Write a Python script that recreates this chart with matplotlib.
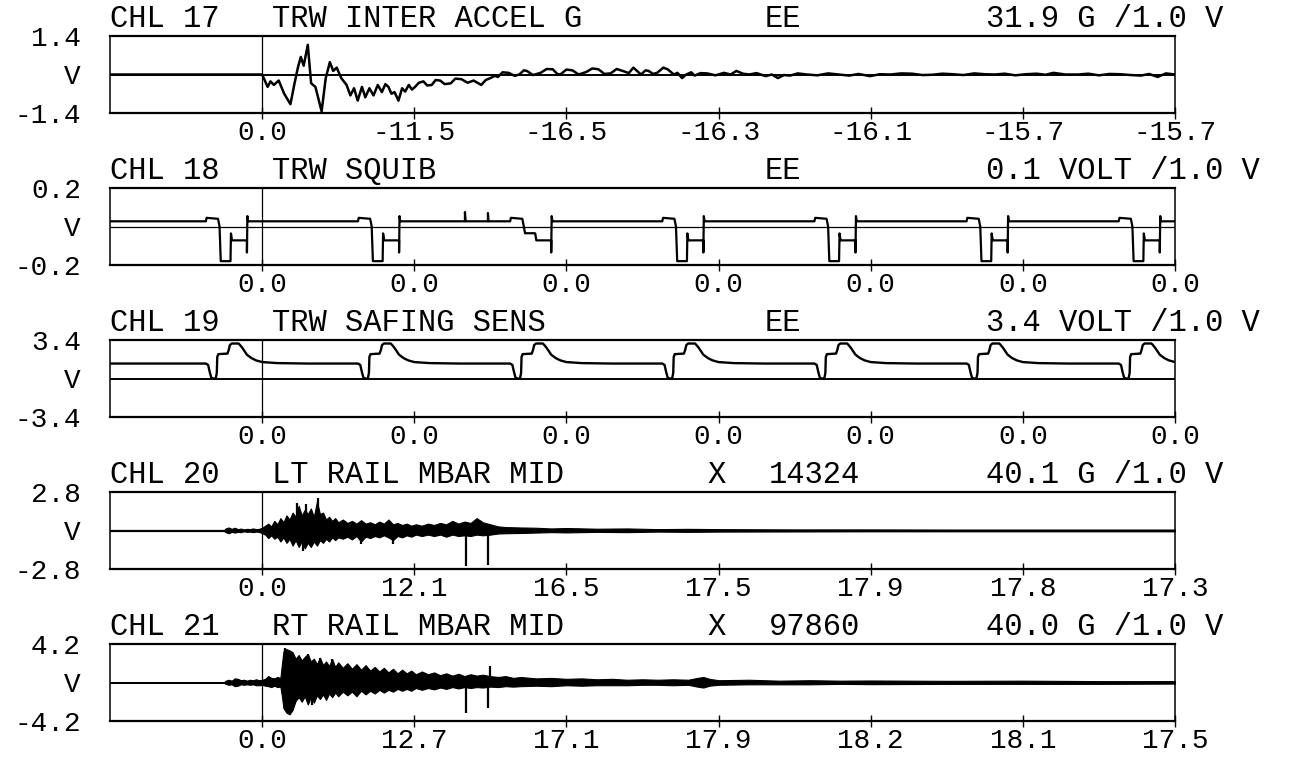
import numpy as np
import matplotlib
matplotlib.use("Agg")
import matplotlib.pyplot as plt

plt.rcParams['font.family'] = ['Liberation Mono', 'DejaVu Sans Mono']

W, H = 1291, 761

# header fields per channel
chl_names = ["CHL 17", "CHL 18", "CHL 19", "CHL 20", "CHL 21"]
chl_titles = ["TRW INTER ACCEL G", "TRW SQUIB", "TRW SAFING SENS",
              "LT RAIL MBAR MID", "RT RAIL MBAR MID"]
chl_x = ["", "", "", "X", "X"]
chl_ids = ["EE", "EE", "EE", "14324", "97860"]
chl_scale = ["31.9 G /1.0 V", "0.1 VOLT /1.0 V", "3.4 VOLT /1.0 V",
             "40.1 G /1.0 V", "40.0 G /1.0 V"]
full_scale = [1.4, 0.2, 3.4, 2.8, 4.2]

tick_labels = [
    ["0.0", "-11.5", "-16.5", "-16.3", "-16.1", "-15.7", "-15.7"],
    ["0.0", "0.0", "0.0", "0.0", "0.0", "0.0", "0.0"],
    ["0.0", "0.0", "0.0", "0.0", "0.0", "0.0", "0.0"],
    ["0.0", "12.1", "16.5", "17.5", "17.9", "17.8", "17.3"],
    ["0.0", "12.7", "17.1", "17.9", "18.2", "18.1", "17.5"],
]

# CHL 17 trace (x in tick divisions, y in volts)
ch17_t = [-1.0, 0.0, 0.036, 0.055, 0.077, 0.109, 0.145, 0.186, 0.213, 0.235,
          0.254, 0.273, 0.30, 0.322, 0.35, 0.391, 0.418, 0.445, 0.467, 0.49,
          0.52, 0.555, 0.58, 0.604, 0.628, 0.656, 0.678, 0.705, 0.732, 0.76,
          0.787, 0.81, 0.83, 0.85, 0.87, 0.896, 0.92, 0.94, 0.964, 0.985,
          1.005, 1.03, 1.06, 1.085, 1.115, 1.14, 1.17, 1.2, 1.24, 1.27,
          1.31, 1.35, 1.39, 1.44, 1.47, 1.50, 1.53, 1.55, 1.58, 1.62,
          1.66, 1.69, 1.72, 1.74, 1.78, 1.83, 1.87, 1.91, 1.94, 1.96,
          2.0, 2.04, 2.08, 2.13, 2.17, 2.21, 2.25, 2.29, 2.33, 2.37,
          2.41, 2.44, 2.47, 2.49, 2.52, 2.54, 2.57, 2.596, 2.637, 2.665,
          2.706, 2.73, 2.76, 2.788, 2.82, 2.843, 2.88, 2.925, 2.98, 3.035,
          3.08, 3.117, 3.16, 3.2, 3.25, 3.31, 3.35, 3.39, 3.43, 3.47,
          3.52, 3.58, 3.65, 3.72, 3.79, 3.858, 3.92, 3.995, 4.06, 4.13,
          4.2, 4.27, 4.34, 4.405, 4.47, 4.54, 4.61, 4.68, 4.75, 4.817,
          4.88, 4.95, 5.02, 5.09, 5.15, 5.2, 5.28, 5.365, 5.43, 5.5,
          5.57, 5.64, 5.71, 5.776, 5.83, 5.886, 5.94, 6.0]
ch17_v = [0.0, 0.0, -0.45, -0.25, -0.38, -0.22, -0.70, -1.08, -0.32, 0.25,
          0.64, 0.32, 1.08, -0.32, -0.45, -1.34, -0.13, 0.45, 0.13, 0.25,
          -0.13, -0.38, -0.76, -0.5, -0.95, -0.45, -0.83, -0.5, -0.76, -0.38,
          -0.64, -0.35, -0.45, -0.7, -0.64, -0.95, -0.5, -0.62, -0.38, -0.55,
          -0.45, -0.3, -0.25, -0.4, -0.38, -0.2, -0.22, -0.35, -0.32, -0.15,
          -0.17, -0.3, -0.22, -0.38, -0.2, -0.13, -0.05, -0.09, 0.08, 0.06,
          -0.05, 0.0, 0.15, 0.13, -0.02, 0.06, 0.2, 0.19, 0.02, 0.0,
          0.18, 0.15, 0.0, 0.09, 0.22, 0.19, 0.02, 0.04, 0.2, 0.13,
          0.05, 0.25, 0.1, 0.0, 0.15, 0.13, 0.02, 0.06, 0.25, 0.19,
          0.0, 0.06, -0.13, 0.0, 0.08, -0.04, 0.05, 0.04, -0.03, 0.06,
          0.0, 0.13, 0.03, 0.0, 0.05, -0.06, 0.0, -0.13, -0.02, -0.04,
          0.04, 0.0, -0.03, 0.04, 0.0, -0.04, 0.02, -0.06, 0.01, 0.0,
          0.04, 0.03, -0.02, -0.01, 0.03, 0.01, -0.02, 0.04, 0.01, 0.0,
          0.03, -0.03, 0.01, 0.03, -0.01, 0.06, 0.0, 0.0, 0.03, -0.03,
          0.02, 0.01, -0.02, -0.04, 0.02, -0.09, 0.04, 0.0]

# CHL 18 squib pulse shape (offset from each division, volts); None = pulse depth
squib_base = 0.027
squib_dx = [-0.37, -0.365, -0.29, -0.28, -0.272, -0.215, -0.208, -0.205,
            -0.198, -0.10, -0.10, -0.097, -0.092]
squib_v = [0.027, 0.045, 0.040, 0.0, None, None, None, -0.036,
           -0.072, -0.072, -0.135, 0.054, 0.027]
squib_pos = [0, 1, 2, 3, 4, 5, 6]
squib_depth = [-0.18, -0.18, -0.035, -0.18, -0.18, -0.18, -0.18]
squib_blip_x = [1.333, 1.484]
squib_blip_v = [0.075, 0.07]

# CHL 19 safing sensor pulse shape (offset from each division, volts)
safe_base = 1.32
safe_dx = [-0.37, -0.355, -0.345, -0.335, -0.325, -0.305, -0.298, -0.295,
           -0.288, -0.228, -0.22, -0.212, -0.2, -0.155, -0.145, -0.13,
           -0.12, -0.1, -0.07, -0.04, 0.0, 0.1, 0.3, 0.6]
safe_v = [1.32, 1.2, 0.6, 0.1, 0.0, 0.0, 0.5, 1.9,
          2.15, 2.2, 2.5, 2.95, 3.09, 3.09, 2.95, 2.7,
          2.5, 2.1, 1.8, 1.6, 1.45, 1.36, 1.32, 1.32]
safe_pos = [0, 1, 2, 3, 4, 5, 6]

# CHL 20 envelope (upper / lower, volts)
ch20_t = [-1.0, -0.25, -0.24, -0.22, -0.20, -0.18, -0.16, -0.14, -0.12, -0.10,
          -0.08, -0.06, -0.04, -0.02, 0.00, 0.02, 0.04, 0.06, 0.08, 0.10,
          0.12, 0.14, 0.16, 0.18, 0.20, 0.22, 0.24, 0.26, 0.28, 0.30,
          0.32, 0.34, 0.36, 0.38, 0.40, 0.42, 0.44, 0.46, 0.48, 0.50,
          0.53, 0.56, 0.59, 0.62, 0.65, 0.68, 0.71, 0.74, 0.77, 0.80,
          0.83, 0.86, 0.89, 0.92, 0.95, 0.98, 1.01, 1.05, 1.09, 1.13,
          1.17, 1.21, 1.25, 1.29, 1.33, 1.37, 1.41, 1.45, 1.50, 1.55,
          1.60, 1.70, 1.80, 1.90, 2.00, 2.2, 2.4, 2.6, 2.8, 3.0,
          3.5, 4.0, 4.5, 5.0, 5.5, 6.0]
ch20_up = [0.04, 0.04, 0.15, 0.22, 0.12, 0.2, 0.1, 0.14, 0.08, 0.12,
           0.1, 0.15, 0.1, 0.12, 0.2, 0.35, 0.5, 0.3, 0.7, 0.45,
           0.9, 0.6, 1.1, 0.8, 1.3, 1.0, 1.8, 1.1, 1.5, 1.2,
           1.6, 1.0, 2.1, 1.2, 1.3, 0.8, 1.0, 0.7, 0.9, 0.6,
           0.8, 0.55, 0.7, 0.5, 0.75, 0.5, 0.6, 0.45, 0.65, 0.5,
           0.8, 0.45, 0.55, 0.4, 0.5, 0.35, 0.45, 0.35, 0.5, 0.4,
           0.55, 0.45, 0.7, 0.5, 0.65, 0.55, 0.9, 0.6, 0.45, 0.3,
           0.25, 0.22, 0.2, 0.15, 0.18, 0.13, 0.15, 0.1, 0.12, 0.1,
           0.08, 0.08, 0.07, 0.07, 0.07, 0.07]
ch20_lo = [-0.04, -0.04, -0.12, -0.2, -0.1, -0.15, -0.1, -0.12, -0.06, -0.1,
           -0.08, -0.12, -0.08, -0.1, -0.2, -0.3, -0.55, -0.35, -0.6, -0.45,
           -0.8, -0.5, -0.9, -0.6, -1.1, -0.7, -1.2, -0.8, -1.3, -0.9,
           -1.2, -0.8, -1.1, -0.7, -0.9, -0.6, -0.8, -0.5, -0.7, -0.5,
           -0.6, -0.45, -0.65, -0.4, -0.8, -0.45, -0.55, -0.4, -0.5, -0.35,
           -0.5, -0.7, -0.4, -0.5, -0.35, -0.45, -0.3, -0.4, -0.3, -0.4,
           -0.3, -0.45, -0.3, -0.4, -0.35, -0.4, -0.3, -0.35, -0.3, -0.22,
           -0.2, -0.18, -0.15, -0.12, -0.14, -0.1, -0.12, -0.08, -0.1, -0.08,
           -0.07, -0.06, -0.06, -0.06, -0.06, -0.06]
ch20_spike_t = [0.23, 0.29, 0.37, 0.27, 0.65, 0.86, 1.339, 1.484]
ch20_spike_v = [2.0, 1.9, 2.4, -1.5, -1.0, -1.0, -2.56, -2.48]

# CHL 21 envelope (upper / lower, volts)
ch21_t = [-1.0, -0.25, -0.24, -0.22, -0.20, -0.18, -0.16, -0.14, -0.12, -0.10,
          -0.08, -0.06, -0.04, -0.02, 0.00, 0.02, 0.04, 0.06, 0.08, 0.10,
          0.12, 0.13, 0.14, 0.16, 0.18, 0.20, 0.22, 0.24, 0.26, 0.28,
          0.30, 0.32, 0.34, 0.36, 0.38, 0.40, 0.42, 0.44, 0.46, 0.48,
          0.50, 0.53, 0.56, 0.59, 0.62, 0.65, 0.68, 0.71, 0.74, 0.77,
          0.80, 0.83, 0.86, 0.89, 0.92, 0.95, 0.98, 1.01, 1.05, 1.09,
          1.13, 1.17, 1.21, 1.25, 1.29, 1.33, 1.37, 1.41, 1.45, 1.50,
          1.55, 1.60, 1.65, 1.70, 1.80, 1.90, 2.00, 2.10, 2.20, 2.30,
          2.40, 2.50, 2.60, 2.70, 2.80, 2.86, 2.90, 2.94, 3.00, 3.20,
          3.40, 3.60, 3.80, 4.00, 4.50, 5.00, 5.50, 6.00]
ch21_up = [0.05, 0.05, 0.2, 0.3, 0.2, 0.45, 0.4, 0.25, 0.3, 0.2,
           0.3, 0.25, 0.35, 0.25, 0.3, 0.4, 0.7, 0.5, 0.45, 0.6,
           0.5, 2.0, 3.4, 3.65, 3.5, 3.3, 2.6, 3.0, 2.4, 2.8,
           3.1, 2.3, 2.6, 2.0, 2.7, 1.9, 2.3, 1.8, 2.55, 1.7,
           2.2, 1.6, 2.1, 1.5, 2.0, 1.4, 1.9, 1.3, 1.7, 1.2,
           1.6, 1.1, 1.5, 1.0, 1.4, 1.0, 1.3, 0.9, 1.2, 0.9,
           1.1, 0.8, 1.0, 0.75, 0.95, 0.7, 0.9, 0.75, 0.85, 0.7,
           0.6, 0.7, 0.5, 0.6, 0.45, 0.5, 0.4, 0.45, 0.35, 0.4,
           0.3, 0.35, 0.3, 0.35, 0.3, 0.5, 0.6, 0.4, 0.25, 0.3,
           0.2, 0.25, 0.2, 0.22, 0.18, 0.2, 0.15, 0.15]
ch21_lo = [-0.05, -0.05, -0.15, -0.25, -0.2, -0.4, -0.35, -0.2, -0.25, -0.2,
           -0.25, -0.2, -0.3, -0.3, -0.25, -0.35, -0.4, -0.5, -0.35, -0.5,
           -0.45, -1.5, -2.8, -3.3, -3.47, -3.0, -2.0, -1.6, -2.1, -1.5,
           -2.4, -1.6, -2.2, -1.4, -1.8, -1.3, -1.9, -1.2, -1.6, -1.1,
           -1.5, -1.0, -1.4, -1.0, -1.5, -0.9, -1.3, -0.9, -1.2, -0.8,
           -1.1, -0.8, -1.0, -0.7, -0.9, -0.7, -0.9, -0.6, -0.8, -0.6,
           -0.75, -0.55, -0.7, -0.5, -0.65, -0.5, -0.6, -0.5, -0.55, -0.45,
           -0.5, -0.4, -0.45, -0.4, -0.35, -0.4, -0.3, -0.35, -0.3, -0.3,
           -0.3, -0.25, -0.25, -0.3, -0.25, -0.45, -0.55, -0.35, -0.25, -0.2,
           -0.2, -0.2, -0.15, -0.18, -0.15, -0.15, -0.15, -0.12]
ch21_spike_t = [0.15, 0.30, 0.38, 0.46, 0.33, 1.339, 1.484, 1.50]
ch21_spike_v = [3.8, 3.1, 2.7, 2.55, -2.4, -3.36, -2.74, 1.8]


# build the repeated pulse traces from the shapes above
sq_t, sq_v = [-1.0], [squib_base]
for k, d in zip(squib_pos, squib_depth):
    for dx, v in zip(squib_dx, squib_v):
        sq_t.append(k + dx)
        sq_v.append(d if v is None else v)
    if k == 1:
        # two small blips before the shallow third pulse
        for bx, bv in zip(squib_blip_x, squib_blip_v):
            sq_t += [bx, bx, bx + 0.004]
            sq_v += [squib_base, bv, squib_base]
sq_t.append(6.0)
sq_v.append(squib_base)

sf_t, sf_v = [-1.0], [safe_base]
for k in safe_pos:
    sf_t += [k + dx for dx in safe_dx]
    sf_v += safe_v

fig = plt.figure(figsize=(W / 100, H / 100), dpi=100)

BOX_L, BOX_R = 110, 1175
TOP0, BOX_H, STEP = 36, 77, 152
FS = 20
FS_HEAD = 22

for i in range(5):
    top = TOP0 + STEP * i
    ax = fig.add_axes([BOX_L / W, 1 - (top + BOX_H) / H,
                       (BOX_R - BOX_L) / W, BOX_H / H])
    m = full_scale[i]
    ax.set_xlim(-1, 6)
    ax.set_ylim(-m, m)
    ax.axhline(0, color='black', lw=1.4 if i != 1 else 0.9)
    ax.axvline(0, color='black', lw=0.9)

    if i == 0:
        ax.plot(ch17_t, ch17_v, color='black', lw=1.8)
    elif i == 1:
        ax.plot(sq_t, sq_v, color='black', lw=1.6)
    elif i == 2:
        ax.plot(sf_t, sf_v, color='black', lw=1.7)
    elif i == 3:
        ax.fill_between(ch20_t, ch20_lo, ch20_up, color='black', lw=0.8)
        ax.vlines(ch20_spike_t, 0, ch20_spike_v, color='black', lw=1.6)
    else:
        ax.fill_between(ch21_t, ch21_lo, ch21_up, color='black', lw=0.8)
        ax.vlines(ch21_spike_t, 0, ch21_spike_v, color='black', lw=1.6)

    ax.set_xticks(range(7))
    ax.set_xticklabels(tick_labels[i])
    ax.set_yticks([-m, 0, m])
    ax.set_yticklabels(["-%.1f" % m, "V", "%.1f" % m])
    ax.tick_params(axis='x', direction='inout', length=8, width=1.0,
                   pad=1, labelsize=FS)
    ax.tick_params(axis='y', length=0, pad=21, labelsize=FS)
    for s in ['top', 'bottom']:
        ax.spines[s].set_linewidth(1.6)
    for s in ['left', 'right']:
        ax.spines[s].set_linewidth(1.1)

    yb = 1 - (top - 9) / H
    fig.text(110 / W, yb, chl_names[i], fontsize=FS_HEAD, va='baseline')
    fig.text(272 / W, yb, chl_titles[i], fontsize=FS_HEAD, va='baseline')
    if chl_x[i]:
        fig.text(707 / W, yb, chl_x[i], fontsize=FS_HEAD, va='baseline')
        fig.text(769 / W, yb, chl_ids[i], fontsize=FS_HEAD, va='baseline')
    else:
        fig.text(765 / W, yb, chl_ids[i], fontsize=FS_HEAD, va='baseline')
    fig.text(986 / W, yb, chl_scale[i], fontsize=FS_HEAD, va='baseline')

fig.savefig("out.png", dpi=100)
